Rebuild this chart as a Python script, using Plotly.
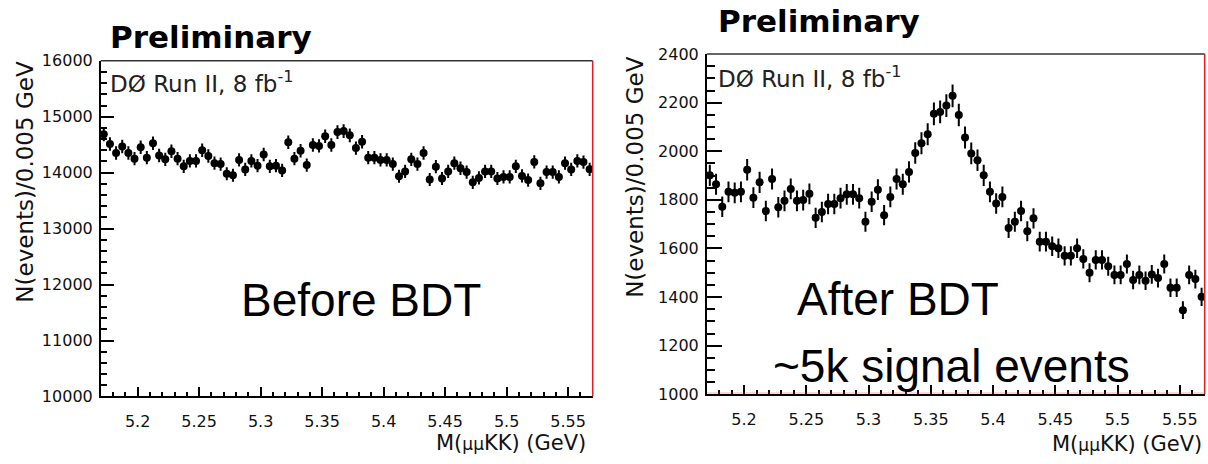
import numpy as np
import plotly.graph_objects as go

W, H = 1208, 464

# Mass bins: 80 bins of 0.005 GeV from 5.17 to 5.57 GeV
bin_lo, bin_w, n_bins = 5.17, 0.005, 80
mass = [round(bin_lo + bin_w * (i + 0.5), 4) for i in range(n_bins)]

# Candidate counts per bin, before the BDT selection
before_bdt = [
    14685, 14513, 14353, 14468, 14353, 14250, 14456, 14268, 14525, 14307,
    14239, 14382, 14250, 14113, 14210, 14210, 14400, 14297, 14170, 14153,
    13981, 13954, 14228, 14057, 14210, 14125, 14324, 14113, 14125, 14040,
    14542, 14250, 14393, 14136, 14496, 14479, 14650, 14496, 14725, 14743,
    14667, 14439, 14554, 14268, 14268, 14228, 14228, 14153, 13936, 14022,
    14239, 14153, 14353, 13878, 14107, 13896, 14022, 14170, 14079, 14010,
    13827, 13907, 14022, 14022, 13896, 13925, 13925, 14113, 13942, 13868,
    14193, 13810, 14010, 14010, 13925, 14170, 14057, 14210, 14190, 14060,
]

# Candidate counts per bin, after the BDT selection
after_bdt = [
    1901, 1864, 1772, 1833, 1829, 1833, 1924, 1809, 1872, 1754,
    1886, 1770, 1796, 1845, 1796, 1799, 1825, 1726, 1750, 1783,
    1783, 1807, 1823, 1823, 1807, 1710, 1792, 1842, 1737, 1812,
    1886, 1864, 1915, 1993, 2033, 2070, 2154, 2162, 2188, 2228,
    2149, 2057, 1991, 1963, 1901, 1833, 1785, 1812, 1684, 1710,
    1754, 1671, 1724, 1628, 1628, 1609, 1601, 1570, 1570, 1601,
    1557, 1500, 1553, 1553, 1527, 1491, 1491, 1536, 1470, 1491,
    1467, 1493, 1478, 1536, 1438, 1438, 1346, 1491, 1474, 1401,
]

x_tick_vals = [5.2, 5.25, 5.3, 5.35, 5.4, 5.45, 5.5, 5.55]
x_tick_text = ["5.2", "5.25", "5.3", "5.35", "5.4", "5.45", "5.5", "5.55"]
left_y_ticks = [10000, 11000, 12000, 13000, 14000, 15000, 16000]
left_y_text = ["10000", "11000", "12000", "13000", "14000", "15000", "16000"]
right_y_ticks = [1000, 1200, 1400, 1600, 1800, 2000, 2200, 2400]
right_y_text = ["1000", "1200", "1400", "1600", "1800", "2000", "2200", "2400"]

y_title = "N(events)/0.005 GeV"
x_title = "M(<span style='font-size:17px'>\u03bc\u03bc</span>KK) (GeV)"
lumi_text = "D\u00d8 Run II, 8 fb<sup>-1</sup>"


def px(x):
    return x / W


def py(y):
    return 1 - y / H


TICK_FONT = dict(family="DejaVu Sans", size=16, color="#111111")

fig = go.Figure()

for counts, xa, ya in [(before_bdt, "x", "y"), (after_bdt, "x2", "y2")]:
    fig.add_trace(go.Scatter(
        x=mass, y=counts, mode="markers", xaxis=xa, yaxis=ya,
        marker=dict(color="black", size=8),
        error_y=dict(type="data", array=np.sqrt(np.array(counts, float)),
                     color="black", thickness=2, width=0),
        showlegend=False, hoverinfo="x+y",
    ))

common_x = dict(
    range=[5.17, 5.57], tickvals=x_tick_vals, ticktext=x_tick_text,
    ticks="inside", ticklen=10, tickwidth=1.5, tickcolor="black",
    minor=dict(dtick=0.01, tick0=5.2, ticks="inside", ticklen=5,
               tickwidth=1.5, tickcolor="black"),
    showline=True, linecolor="black", linewidth=1.5, showgrid=False,
    zeroline=False, tickfont=TICK_FONT, ticklabelstandoff=10,
)
common_y = dict(
    ticks="inside", tickwidth=1.5, tickcolor="black",
    showline=True, linecolor="black", linewidth=1.5, showgrid=False,
    zeroline=False, tickfont=TICK_FONT, ticklabelstandoff=3,
)

fig.update_layout(
    width=W, height=H, margin=dict(l=0, r=0, t=0, b=0),
    paper_bgcolor="white", plot_bgcolor="white",
    xaxis=dict(domain=[px(100.7), px(592.7)], anchor="y", **common_x),
    yaxis=dict(domain=[py(404), py(54)], anchor="x", range=[10000, 16000],
               tickvals=left_y_ticks, ticktext=left_y_text, ticklen=14,
               minor=dict(dtick=200, ticks="inside", ticklen=7,
                          tickwidth=1.5, tickcolor="black"),
               **common_y),
    xaxis2=dict(domain=[px(706.7), px(1204.7)], anchor="y2", **common_x),
    yaxis2=dict(domain=[py(401.7), py(47)], anchor="x2", range=[1000, 2400],
                tickvals=right_y_ticks, ticktext=right_y_text, ticklen=16,
                minor=dict(dtick=50, ticks="inside", ticklen=9,
                           tickwidth=1.5, tickcolor="black"),
                **common_y),
)

# Frame: dark top edge, red right edge (and faint red baseline on the right pad)
shapes = []
for xr, yr in [("x", "y"), ("x2", "y2")]:
    shapes.append(dict(type="line", xref=f"{xr} domain", yref=f"{yr} domain",
                       x0=0, x1=1, y0=1, y1=1,
                       line=dict(color="#333333", width=1.5)))
    shapes.append(dict(type="line", xref=f"{xr} domain", yref=f"{yr} domain",
                       x0=1, x1=1, y0=0, y1=1,
                       line=dict(color="#e02020", width=1.5)))
shapes.append(dict(type="line", xref="x2 domain", yref="y2",
                   x0=0, x1=1, y0=1005, y1=1005,
                   line=dict(color="rgba(230,80,80,0.45)", width=1)))
fig.update_layout(shapes=shapes)

ann = []


def add_text(text, x, y, size, family="DejaVu Sans", color="black",
             xanchor="left", yanchor="middle", angle=0):
    ann.append(dict(text=text, x=px(x), y=py(y), xref="paper", yref="paper",
                    showarrow=False, xanchor=xanchor, yanchor=yanchor,
                    textangle=angle,
                    font=dict(family=family, size=size, color=color)))


# Left pad
add_text("<b>Preliminary</b>", 108, 29, 31)
add_text(lumi_text, 108, 76, 23, color="#222222")
add_text(y_title, 25, 180, 23, xanchor="center", angle=-90, color="#111111")
add_text(x_title, 588, 453, 21, xanchor="right", color="#111111")
add_text("Before BDT", 361, 303, 46, family="Liberation Sans", xanchor="center")

# Right pad
add_text("<b>Preliminary</b>", 716, 13, 31)
add_text(lumi_text, 716, 71, 23, color="#222222")
add_text(y_title, 635, 175, 23, xanchor="center", angle=-90, color="#111111")
add_text(x_title, 1204, 454, 21, xanchor="right", color="#111111")
add_text("After BDT", 898, 302, 46, family="Liberation Sans", xanchor="center")
add_text("~5k signal events", 951, 372, 46, family="Liberation Sans",
         xanchor="center")

fig.update_layout(annotations=ann)

fig.write_html("out.html")
